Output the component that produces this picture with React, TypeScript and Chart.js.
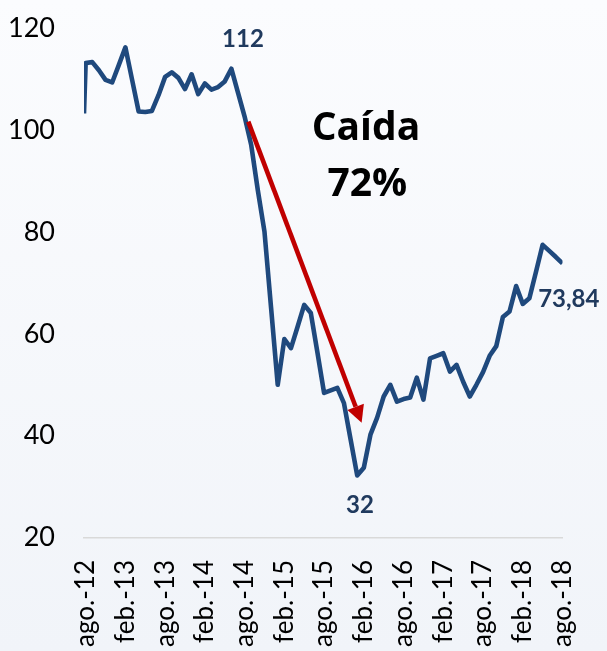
import { useEffect, useRef } from 'react';
import { Chart, registerables } from 'chart.js';

Chart.register(...registerables);

// ---- data ----
const TICK_LABELS = [
  'ago.-12', 'feb.-13', 'ago.-13', 'feb.-14', 'ago.-14', 'feb.-15', 'ago.-15',
  'feb.-16', 'ago.-16', 'feb.-17', 'ago.-17', 'feb.-18', 'ago.-18',
];
const MONTHS_PER_TICK = 6;

// Value where the line enters at the left edge, a quarter month before ago.-12
const ENTRY_OFFSET = -0.25;
const ENTRY_VALUE = 103.3;

// Monthly values, ago.-12 ... ago.-18
const PRICE = [
  113.2, 113.4, 111.8, 109.9, 109.4, 112.8, 116.3, 110.0, 103.7, 103.6,
  103.8, 106.9, 110.5, 111.4, 110.3, 108.1, 111.0, 107.1, 109.2, 108.0,
  108.5, 109.6, 112.1, 107.4, 102.7, 97.1, 88.2, 80.1, 65.1, 50.0,
  59.0, 57.2, 61.4, 65.7, 64.1, 56.3, 48.4, 48.9, 49.4, 46.4,
  39.3, 32.2, 33.7, 40.2, 43.5, 47.7, 50.0, 46.7, 47.2, 47.5,
  51.4, 47.1, 55.2, 55.7, 56.2, 52.6, 53.9, 50.6, 47.7, 50.0,
  52.5, 55.7, 57.6, 63.3, 64.4, 69.4, 65.9, 67.0, 72.2, 77.5,
  76.3, 75.1, 73.84,
];

const Y_MIN = 20;
const Y_MAX = 120;
const Y_STEP = 20;

// annotations (data units: x = months from ago.-12, y = value)
const PEAK_TEXT = '112';
const PEAK_POS = { x: 23.75, y: 116.4 };
const LOW_TEXT = '32';
const LOW_POS = { x: 41.41, y: 24.75 };
const LAST_TEXT = '73,84';
const LAST_POS = { x: 68.32, y: 65.2 };
const DROP_LINES = ['Caída', '72%'];
const DROP_POS = [
  { x: 42.32, y: 98.1 },
  { x: 42.54, y: 87.0 },
];
const ARROW_FROM = { x: 24.55, y: 101.7 };
const ARROW_TO = { x: 41.67, y: 42.55 };

const CANVAS_W = 607;
const CANVAS_H = 700;

const annotationPlugin = {
  id: 'annotations',
  afterDatasetsDraw(chart: any) {
    const { ctx } = chart;
    const xs = chart.scales.x;
    const ys = chart.scales.y;
    const px = (p: { x: number; y: number }) => [xs.getPixelForValue(p.x), ys.getPixelForValue(p.y)];
    ctx.save();

    // arrow
    const [x1, y1] = px(ARROW_FROM);
    const [x2, y2] = px(ARROW_TO);
    const ang = Math.atan2(y2 - y1, x2 - x1);
    const headLen = 17;
    const headHalf = 8.8;
    const bx = x2 - headLen * Math.cos(ang);
    const by = y2 - headLen * Math.sin(ang);
    ctx.strokeStyle = '#c00000';
    ctx.fillStyle = '#c00000';
    ctx.lineWidth = 4.6;
    ctx.lineCap = 'butt';
    ctx.beginPath();
    ctx.moveTo(x1, y1);
    ctx.lineTo(bx, by);
    ctx.stroke();
    ctx.beginPath();
    ctx.moveTo(x2, y2);
    ctx.lineTo(bx + headHalf * Math.sin(ang), by - headHalf * Math.cos(ang));
    ctx.lineTo(bx - headHalf * Math.sin(ang), by + headHalf * Math.cos(ang));
    ctx.closePath();
    ctx.fill();

    // value labels
    ctx.fillStyle = '#203a5e';
    ctx.font = 'bold 24px Lato';
    ctx.textBaseline = 'alphabetic';
    ctx.textAlign = 'center';
    let [tx, ty] = px(PEAK_POS);
    ctx.fillText(PEAK_TEXT, tx, ty);
    [tx, ty] = px(LOW_POS);
    ctx.fillText(LOW_TEXT, tx, ty);
    ctx.textAlign = 'left';
    [tx, ty] = px(LAST_POS);
    ctx.fillText(LAST_TEXT, tx, ty);

    // drop text
    ctx.fillStyle = '#000000';
    ctx.font = 'bold 39px "Open Sans"';
    ctx.textAlign = 'center';
    DROP_LINES.forEach((t, i) => {
      const [dx, dy] = px(DROP_POS[i]);
      ctx.fillText(t, dx, dy);
    });

    ctx.restore();
  },
};

export default function App() {
  const ref = useRef<HTMLCanvasElement | null>(null);

  useEffect(() => {
    if (!ref.current) return;
    const points = [
      { x: ENTRY_OFFSET, y: ENTRY_VALUE },
      ...PRICE.map((v, i) => ({ x: i, y: v })),
    ];
    const lastMonth = (TICK_LABELS.length - 1) * MONTHS_PER_TICK;
    const chart = new Chart(ref.current, {
      type: 'line',
      data: {
        datasets: [
          {
            data: points,
            borderColor: '#1f497d',
            borderWidth: 4.6,
            borderJoinStyle: 'round',
            borderCapStyle: 'butt',
            pointRadius: 0,
            tension: 0,
            fill: false,
          },
        ],
      },
      options: {
        animation: false,
        responsive: false,
        maintainAspectRatio: false,
        devicePixelRatio: 1,
        layout: { padding: { top: 28.5, right: 44.5, bottom: 0, left: 0 } },
        plugins: { legend: { display: false }, tooltip: { enabled: false } },
        scales: {
          x: {
            type: 'linear',
            min: ENTRY_OFFSET,
            max: lastMonth,
            grid: { display: false, drawTicks: false },
            border: { display: true, color: '#d9d9d9', width: 1.5 },
            afterBuildTicks: (scale: any) => {
              scale.ticks = TICK_LABELS.map((_, i) => ({ value: i * MONTHS_PER_TICK }));
            },
            afterFit: (scale: any) => {
              scale.height = CANVAS_H - 537.5;
              scale.paddingLeft = 0;
              scale.paddingRight = 0;
            },
            ticks: {
              autoSkip: false,
              minRotation: 90,
              maxRotation: 90,
              padding: 22.5,
              color: '#000000',
              font: { family: 'Lato', size: 26 },
              callback: (v: any) => TICK_LABELS[Math.round(Number(v) / MONTHS_PER_TICK)] ?? '',
            },
          },
          y: {
            min: Y_MIN,
            max: Y_MAX,
            grid: { display: false, drawTicks: false },
            border: { display: false },
            afterFit: (scale: any) => {
              scale.width = 84;
              scale.paddingTop = 0;
              scale.paddingBottom = 0;
            },
            ticks: {
              stepSize: Y_STEP,
              padding: 29,
              color: '#000000',
              font: { family: 'Lato', size: 27 },
            },
          },
        },
      },
      plugins: [annotationPlugin],
    });
    return () => chart.destroy();
  }, []);

  return (
    <div
      style={{
        position: 'fixed',
        left: 0,
        top: 0,
        width: CANVAS_W,
        height: 651,
        overflow: 'hidden',
        background: 'linear-gradient(#fbfcfe, #f1f4f9)',
      }}
    >
      <canvas ref={ref} width={CANVAS_W} height={CANVAS_H} style={{ display: 'block', width: CANVAS_W, height: CANVAS_H }} />
    </div>
  );
}
